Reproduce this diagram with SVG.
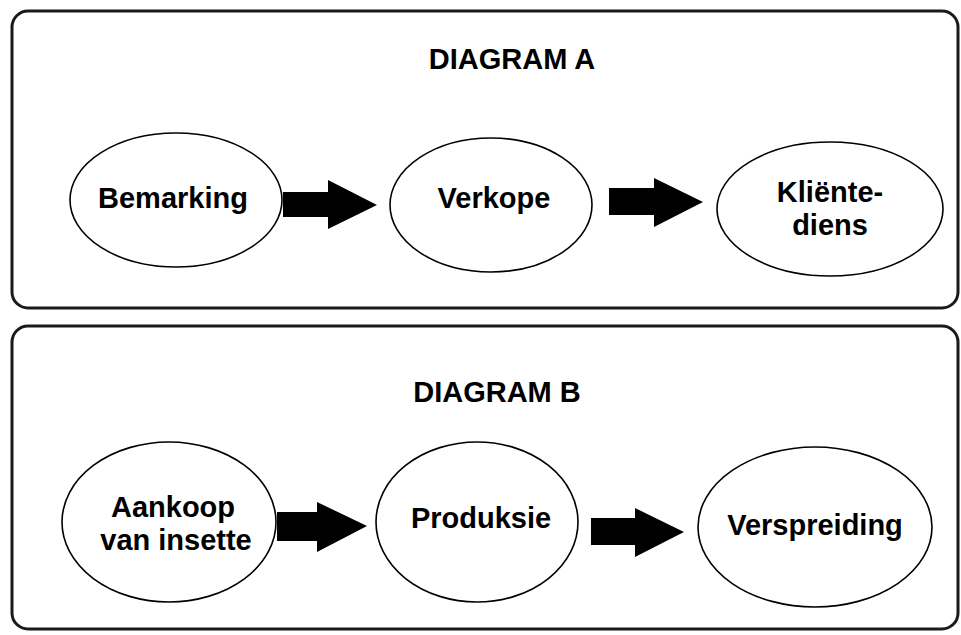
<svg xmlns="http://www.w3.org/2000/svg" width="961" height="635" viewBox="0 0 961 635">
<style>
.panel{fill:#fff;stroke:#1a1a1a;stroke-width:3}
.node{fill:#fff;stroke:#000;stroke-width:1.6}
.t{font-family:"Liberation Sans",Arial,sans-serif;font-weight:bold;font-size:29px;fill:#000;text-anchor:middle}
.arr{fill:#000}
</style>
<rect width="961" height="635" fill="#fff"/>
<g id="panelA">
<rect class="panel" x="12" y="11" width="946" height="297" rx="16"/>
<text class="t" x="512" y="69">DIAGRAM A</text>
</g>
<g id="panelB">
<rect class="panel" x="12" y="326" width="946" height="303" rx="16"/>
<text class="t" x="497" y="402">DIAGRAM B</text>
</g>
<g id="connectors">
<polygon class="arr" points="283,192 328,192 328,180 377,205 328,229 328,217 283,217"/>
<polygon class="arr" points="609,188 654,188 654,178 703,202 654,227 654,215 609,215"/>
<polygon class="arr" points="277,512 317,512 317,502 367,526 317,552 317,541 277,541"/>
<polygon class="arr" points="591,518 635,518 635,508 684,532 635,557 635,545 591,545"/>
</g>
<g id="bemarking">
<ellipse class="node" cx="176" cy="200" rx="106" ry="67"/>
<text class="t" x="173" y="208">Bemarking</text>
</g>
<g id="verkope">
<ellipse class="node" cx="491" cy="205" rx="101" ry="67"/>
<text class="t" x="494" y="208">Verkope</text>
</g>
<g id="klientediens">
<ellipse class="node" cx="830" cy="209" rx="113" ry="67"/>
<text class="t" x="830" y="202">Kliënte-</text>
<text class="t" x="830" y="235">diens</text>
</g>
<g id="aankoop">
<ellipse class="node" cx="169" cy="522" rx="107" ry="80"/>
<text class="t" x="173" y="517">Aankoop</text>
<text class="t" x="176" y="550">van insette</text>
</g>
<g id="produksie">
<ellipse class="node" cx="477" cy="522" rx="101" ry="80"/>
<text class="t" x="481" y="528">Produksie</text>
</g>
<g id="verspreiding">
<ellipse class="node" cx="815" cy="527" rx="117" ry="80"/>
<text class="t" x="815" y="535">Verspreiding</text>
</g>
</svg>
